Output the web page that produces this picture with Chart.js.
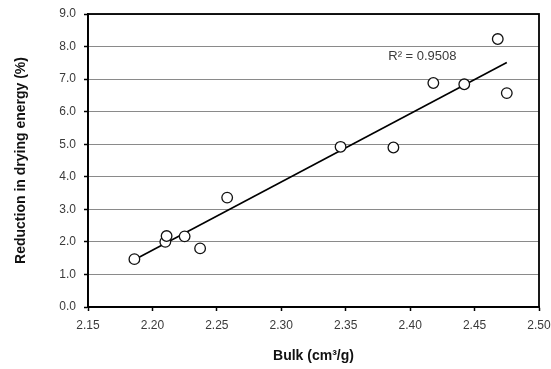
<!DOCTYPE html>
<html>
<head>
<meta charset="utf-8">
<script src="https://cdn.jsdelivr.net/npm/chart.js@4/dist/chart.umd.min.js"></script>
<style>
  html, body { margin: 0; padding: 0; background: #fff; }
  #wrap { width: 551px; height: 369px; position: relative; }
</style>
</head>
<body>
<div id="wrap"><canvas id="c" width="551" height="369"></canvas></div>
<script>
// Data
const bulkValues = [2.186, 2.210, 2.211, 2.225, 2.237, 2.258, 2.346, 2.387, 2.418, 2.442, 2.468, 2.475];
const reductionValues = [1.47, 2.00, 2.18, 2.17, 1.80, 3.36, 4.92, 4.90, 6.88, 6.84, 8.23, 6.57];
const trendX = [2.186, 2.475];
const trendY = [1.45, 7.51];
const r2Label = "R\u00B2 = 0.9508";
const r2Pos = [2.383, 7.69];
const xTitle = "Bulk (cm\u00B3/g)";
const yTitle = "Reduction in drying energy (%)";

const points = bulkValues.map((x, i) => ({ x: x, y: reductionValues[i] }));
const trend = trendX.map((x, i) => ({ x: x, y: trendY[i] }));

const FONT = '"Liberation Sans", Arial, sans-serif';

const frame = {
  id: 'frame',
  afterDatasetsDraw(chart) {
    const { ctx, chartArea: a, scales } = chart;
    ctx.save();
    ctx.strokeStyle = '#000';
    ctx.lineWidth = 1.8;
    ctx.strokeRect(a.left, a.top, a.right - a.left, a.bottom - a.top);
    ctx.fillStyle = '#3a3a3a';
    ctx.font = '13px ' + FONT;
    ctx.textAlign = 'left';
    ctx.textBaseline = 'middle';
    ctx.fillText(r2Label, scales.x.getPixelForValue(r2Pos[0]), scales.y.getPixelForValue(r2Pos[1]));
    ctx.restore();
  }
};

new Chart(document.getElementById('c'), {
  type: 'scatter',
  data: {
    datasets: [
      {
        type: 'line',
        data: trend,
        borderColor: '#000',
        borderWidth: 1.6,
        pointRadius: 0,
        fill: false,
        order: 2
      },
      {
        data: points,
        pointStyle: 'circle',
        pointRadius: 5.3,
        pointBorderWidth: 1.3,
        pointBorderColor: '#111',
        pointBackgroundColor: '#fff',
        order: 1
      }
    ]
  },
  options: {
    responsive: false,
    animation: false,
    devicePixelRatio: 1,
    layout: { padding: { left: 0, right: 12, top: 14, bottom: 0 } },
    plugins: { legend: { display: false }, tooltip: { enabled: false } },
    scales: {
      x: {
        type: 'linear',
        min: 2.15, max: 2.50,
        afterFit(s) { s.height = 62; s.paddingRight = 0; s.paddingLeft = 0; },
        ticks: {
          stepSize: 0.05,
          color: '#3a3a3a',
          font: { family: FONT, size: 12 },
          padding: 7,
          callback: v => Number(v).toFixed(2)
        },
        grid: { drawOnChartArea: false, drawTicks: true, tickLength: 4, tickColor: '#000', tickWidth: 1.5 },
        border: { display: true, color: '#000', width: 1.8 },
        title: {
          display: true, text: xTitle, color: '#111',
          font: { family: FONT, size: 14, weight: 'bold' },
          padding: { top: 14 }
        }
      },
      y: {
        min: 0, max: 9,
        afterFit(s) { s.width = 88; s.paddingTop = 0; s.paddingBottom = 0; },
        ticks: {
          stepSize: 1,
          color: '#3a3a3a',
          font: { family: FONT, size: 12 },
          padding: 8,
          callback: v => Number(v).toFixed(1)
        },
        grid: {
          color: '#8a8a8a', lineWidth: 1, borderDash: [2, 2],
          drawTicks: true, tickLength: 4, tickColor: '#000', tickWidth: 1.5, tickBorderDash: []
        },
        border: { display: true, color: '#000', width: 1.8 },
        title: {
          display: true, text: yTitle, color: '#111',
          font: { family: FONT, size: 14, weight: 'bold' },
          padding: { top: 13, bottom: 2 }
        }
      }
    }
  },
  plugins: [frame]
});
</script>
</body>
</html>
